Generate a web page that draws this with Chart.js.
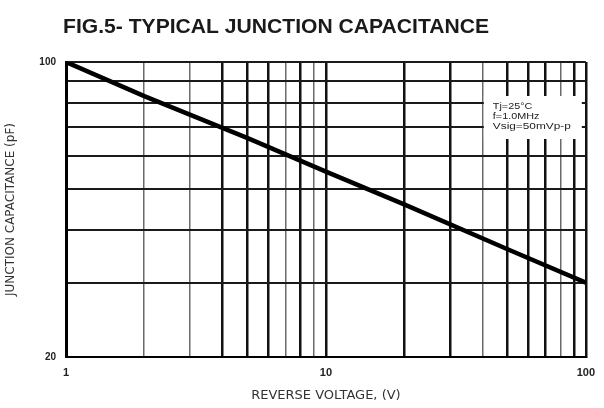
<!DOCTYPE html>
<html>
<head>
<meta charset="utf-8">
<script src="https://cdn.jsdelivr.net/npm/chart.js@4.4.0/dist/chart.umd.min.js"></script>
<style>
html,body{margin:0;padding:0;background:#fff;}
#wrap{position:relative;width:604px;height:408px;}
</style>
</head>
<body>
<div id="wrap"><canvas id="c" width="604" height="408"></canvas></div>
<script>
const chartTitle = 'FIG.5- TYPICAL JUNCTION CAPACITANCE';
const xAxisTitle = 'REVERSE VOLTAGE, (V)';
const yAxisTitle = 'JUNCTION CAPACITANCE (pF)';
const conditions = ['Tj=25°C', 'f=1.0MHz', 'Vsig=50mVp-p'];

const reverseVoltage = [1, 2, 5, 10, 20, 50, 100];
const junctionCapacitance = [100, 83, 66, 55, 46, 36, 30];

const xGridValues = [1, 2, 3, 4, 5, 6, 7, 8, 9, 10, 20, 30, 40, 50, 60, 70, 80, 90, 100];
const yGridValues = [20, 30, 40, 50, 60, 70, 80, 90, 100];
const xTickLabels = [1, 10, 100];
const yTickLabels = [20, 100];

const lightXLines = [2, 3, 7, 9, 40, 80];

const annotations = {
  id: 'annotations',
  afterDraw(chart) {
    const ctx = chart.ctx;
    const a = chart.chartArea;
    ctx.save();
    ctx.fillStyle = '#1a1a1a';
    ctx.font = 'bold 21px "Liberation Sans", Arial, sans-serif';
    ctx.textBaseline = 'alphabetic';
    const w = ctx.measureText(chartTitle).width;
    const target = 426;
    ctx.translate(63, 33);
    ctx.scale(target / w, 1);
    ctx.fillText(chartTitle, 0, 0);
    ctx.restore();

    ctx.save();
    const bx = a.right - 102, by = a.top + 34, bw = 98, bh = 43;
    ctx.fillStyle = '#fff';
    ctx.fillRect(bx, by, bw, bh);
    ctx.fillStyle = '#222';
    ctx.font = '9px "Liberation Sans", Arial, sans-serif';
    ctx.textBaseline = 'middle';
    conditions.forEach((t, i) => {
      ctx.save();
      ctx.translate(bx + 9, by + 11 + i * 10);
      const tw = ctx.measureText(t).width;
      const sx = i === 2 ? 78 / tw : 1.2;
      ctx.scale(sx, 1);
      ctx.fillText(t, 0, 0);
      ctx.restore();
    });
    ctx.restore();
  }
};

new Chart(document.getElementById('c'), {
  type: 'line',
  data: {
    datasets: [{
      data: reverseVoltage.map((v, i) => ({ x: v, y: junctionCapacitance[i] })),
      borderColor: '#000',
      borderWidth: 4.5,
      pointRadius: 0,
      fill: false,
      tension: 0
    }]
  },
  options: {
    responsive: false,
    animation: false,
    devicePixelRatio: 1,
    layout: { padding: { left: 4, right: 14, top: 62, bottom: 0 } },
    plugins: { legend: { display: false }, tooltip: { enabled: false }, title: { display: false } },
    scales: {
      x: {
        type: 'logarithmic',
        min: 1, max: 100,
        afterBuildTicks: s => { s.ticks = xGridValues.map(v => ({ value: v })); },
        afterFit: s => { s.height = 51; },
        ticks: {
          autoSkip: false, maxRotation: 0, minRotation: 0, padding: 9,
          color: '#222',
          font: { size: 11, family: '"Liberation Sans", Arial, sans-serif', weight: 'bold' },
          callback: v => xTickLabels.includes(v) ? String(v) : ''
        },
        grid: {
          drawTicks: false,
          color: c => (c.tick && lightXLines.includes(c.tick.value)) ? '#6a6a6a' : '#111',
          lineWidth: c => (c.tick && lightXLines.includes(c.tick.value)) ? 1.5 : 2.5
        },
        border: { color: '#000', width: 2 },
        title: {
          display: true, text: xAxisTitle, color: '#333',
          font: { size: 13, family: '"DejaVu Sans", sans-serif' },
          padding: { top: 0, bottom: 5 }
        }
      },
      y: {
        type: 'logarithmic',
        min: 20, max: 100,
        afterBuildTicks: s => { s.ticks = yGridValues.map(v => ({ value: v })); },
        afterFit: s => { s.width = 62; },
        ticks: {
          autoSkip: false, padding: 10,
          color: '#222',
          font: { size: 10, family: '"Liberation Sans", Arial, sans-serif', weight: 'bold' },
          callback: v => yTickLabels.includes(v) ? String(v) : ''
        },
        grid: { drawTicks: false, color: '#1a1a1a', lineWidth: 2 },
        border: { color: '#000', width: 3 },
        title: {
          display: true, text: yAxisTitle, color: '#333',
          font: { size: 12, family: '"DejaVu Sans", sans-serif' },
          padding: { top: 0, bottom: 0 }
        }
      }
    }
  },
  plugins: [annotations]
});
</script>
</body>
</html>
